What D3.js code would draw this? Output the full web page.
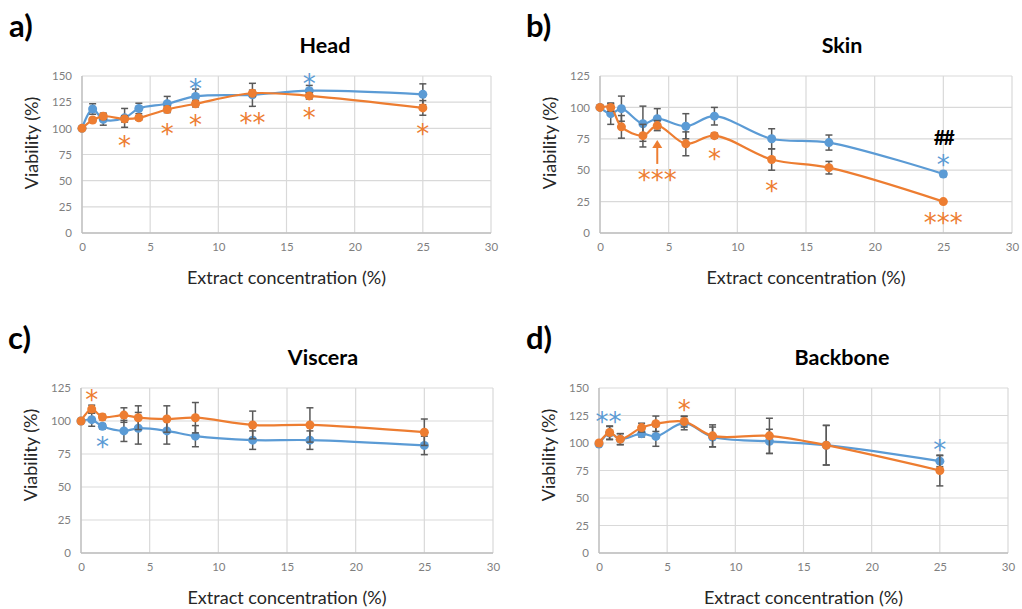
<!DOCTYPE html>
<html>
<head>
<meta charset="utf-8">
<script src="https://cdn.jsdelivr.net/npm/d3@7"></script>
<style>
  body { margin: 0; background: #fff; }
  text { font-family: Lato, "Open Sans", sans-serif; }
</style>
</head>
<body>
<svg id="chart" width="1022" height="609"></svg>
<script>
// extract concentrations (%) - same for every panel
const conc = [0, 0.78, 1.56, 3.125, 4.17, 6.25, 8.33, 12.5, 16.67, 25];
const xTicks = [0, 5, 10, 15, 20, 25, 30];

// a) Head
const headBlue = [100, 118.5, 108.5, 110, 119, 123.5, 130.5, 132, 136, 132.5];
const headBlueErr = [0, 5, 5.5, 9, 5, 7, 7, 11, 5, 10];
const headOrange = [100, 108, 111.5, 109, 110, 118, 123.5, 133.5, 131, 119.5];
const headOrangeErr = [0, 2, 3, 3, 2, 3, 3, 3, 3, 7];

// b) Skin
const skinBlue = [100, 95, 99, 87, 91, 85, 93, 75, 72, 47];
const skinBlueErr = [0, 8.5, 10, 14, 8, 10, 7, 8, 6, 2];
const skinOrange = [100, 100, 84.5, 77.5, 85.5, 71, 77.5, 58.5, 52, 25];
const skinOrangeErr = [0, 3, 9, 9, 4, 9.5, 2, 8.5, 5, 1];

// c) Viscera
const visceraBlue = [100, 101, 96, 92.5, 94.5, 92.5, 88.5, 85.5, 85.5, 81.5];
const visceraBlueErr = [0, 5, 2, 8, 12, 10, 8, 7, 7, 7];
const visceraOrange = [100, 109, 103, 104.5, 102.5, 101.5, 102.5, 97, 97, 91.5];
const visceraOrangeErr = [0, 3, 2, 5.5, 9, 10, 11.5, 10.5, 13, 10];

// d) Backbone
const backboneBlue = [99, 109, 103.5, 108.5, 106, 118, 105.5, 101.5, 98, 83.5];
const backboneBlueErr = [0, 6, 5, 3, 9, 6, 9, 11, 18, 5];
const backboneOrange = [100, 109.5, 103.5, 114, 117.5, 119.5, 106.5, 106.5, 98, 75];
const backboneOrangeErr = [0, 6, 5, 4, 7, 5, 10, 16, 18, 14];

// significance marks [x, y, text, series]
const headMarks = [[8.33, 143, "*", "blue"], [16.67, 148, "*", "blue"], [3.125, 88, "*", "orange"],
  [6.25, 100, "*", "orange"], [8.33, 108.5, "*", "orange"], [12.5, 110.5, "**", "orange"],
  [16.67, 115.5, "*", "orange"], [25, 99.5, "*", "orange"]];
const skinMarks = [[4.17, 46.5, "***", "orange"], [8.33, 63, "*", "orange"], [12.5, 38, "*", "orange"],
  [25, 12, "***", "orange"], [25, 58.5, "*", "blue"], [25, 76, "##", "black"]];
const visceraMarks = [[0.78, 120.5, "*", "orange"], [1.56, 84.5, "*", "blue"]];
const backboneMarks = [[0.7, 124.5, "**", "blue"], [6.25, 135.5, "*", "orange"], [25, 99, "*", "blue"]];

const colors = { blue: "#5B9BD5", orange: "#ED7D31", black: "#000" };

const svg = d3.select("#chart");
svg.append("rect").attr("width", 1022).attr("height", 609).attr("fill", "#fff");

function drawPanel(p) {
  const x = d3.scaleLinear().domain([0, 30]).range([p.left, p.right]);
  const y = d3.scaleLinear().domain([0, p.yMax]).range([p.bottom, p.top]);
  const yTicks = d3.range(0, p.yMax + 1, 25);
  const g = svg.append("g");

  // gridlines
  g.selectAll(".hgrid").data(yTicks).enter().append("line")
    .attr("x1", p.left).attr("x2", p.right)
    .attr("y1", d => y(d)).attr("y2", d => y(d))
    .attr("stroke", "#d9d9d9").attr("stroke-width", 1.2);
  g.selectAll(".vgrid").data(xTicks).enter().append("line")
    .attr("x1", d => x(d)).attr("x2", d => x(d))
    .attr("y1", p.top).attr("y2", p.bottom)
    .attr("stroke", "#d9d9d9").attr("stroke-width", 1.2);
  // axis lines
  g.append("line").attr("x1", p.left).attr("x2", p.right).attr("y1", p.bottom).attr("y2", p.bottom)
    .attr("stroke", "#bfbfbf").attr("stroke-width", 1.3);
  g.append("line").attr("x1", p.left).attr("x2", p.left).attr("y1", p.top).attr("y2", p.bottom)
    .attr("stroke", "#bfbfbf").attr("stroke-width", 1.3);

  // tick labels
  const ya = g.append("g").attr("transform", "translate(" + p.left + ",0)")
    .call(d3.axisLeft(y).tickValues(yTicks).tickSize(0).tickPadding(10));
  const xa = g.append("g").attr("transform", "translate(0," + p.bottom + ")")
    .call(d3.axisBottom(x).tickValues(xTicks).tickSize(0).tickPadding(10));
  [ya, xa].forEach(a => {
    a.select(".domain").remove();
    a.selectAll("text").attr("fill", "#7f7f7f").style("font-size", "11.5px")
      .style("font-family", "Lato, sans-serif");
  });

  // axis titles
  g.append("text").attr("x", (p.left + p.right) / 2).attr("y", p.bottom + 51)
    .attr("text-anchor", "middle").attr("fill", "#262626").style("font-size", "18px")
    .text("Extract concentration (%)");
  g.append("text").attr("transform", "translate(" + (p.left - 44) + "," + (p.top + 67) + ") rotate(-90)")
    .attr("text-anchor", "middle").attr("fill", "#262626").style("font-size", "18px")
    .text("Viability (%)");

  // chart title and panel label
  g.append("text").attr("x", p.titleX).attr("y", p.top - 23)
    .attr("text-anchor", "middle").attr("font-weight", "bold").style("font-size", "21.5px")
    .text(p.title);
  g.append("text").attr("x", p.labelX).attr("y", p.top - 39)
    .attr("font-weight", "bold").style("font-size", "31px")
    .text(p.label);

  const line = d3.line()
    .x((d, i) => x(conc[i]))
    .y(d => y(d))
    .curve(d3.curveCatmullRom.alpha(0.5));

  p.series.forEach(s => {
    const col = colors[s.color];
    g.append("path").datum(s.values).attr("d", line)
      .attr("fill", "none").attr("stroke", col).attr("stroke-width", 2.2);
    const pts = s.values.map((v, i) => ({ x: conc[i], v: v, e: s.err[i] }));
    const eb = g.selectAll(null).data(pts.filter(d => d.e > 0)).enter().append("g")
      .attr("stroke", "#595959").attr("stroke-width", 1.5);
    eb.append("line").attr("x1", d => x(d.x)).attr("x2", d => x(d.x))
      .attr("y1", d => y(d.v - d.e)).attr("y2", d => y(d.v + d.e));
    eb.append("line").attr("x1", d => x(d.x) - 3.5).attr("x2", d => x(d.x) + 3.5)
      .attr("y1", d => y(d.v - d.e)).attr("y2", d => y(d.v - d.e));
    eb.append("line").attr("x1", d => x(d.x) - 3.5).attr("x2", d => x(d.x) + 3.5)
      .attr("y1", d => y(d.v + d.e)).attr("y2", d => y(d.v + d.e));
    g.selectAll(null).data(pts).enter().append("circle")
      .attr("cx", d => x(d.x)).attr("cy", d => y(d.v)).attr("r", 4.5)
      .attr("fill", col);
  });

  // significance marks
  const isHash = d => d[2][0] === "#";
  g.selectAll(null).data(p.marks).enter().append("text")
    .attr("x", d => x(d[0])).attr("y", d => y(d[1]))
    .attr("text-anchor", "middle")
    .attr("dy", d => isHash(d) ? "0.36em" : "0.56em")
    .attr("fill", d => colors[d[3]])
    .attr("font-weight", d => isHash(d) ? "bold" : "normal")
    .style("font-family", d => isHash(d) ? "Lato, sans-serif" : "'DejaVu Sans', sans-serif")
    .style("font-size", d => isHash(d) ? "20px" : "26px")
    .style("letter-spacing", d => isHash(d) ? "-2px" : "0px")
    .text(d => d[2]);

  if (p.arrow) {
    const [ax, y0, y1] = p.arrow;
    g.append("line").attr("x1", x(ax)).attr("x2", x(ax)).attr("y1", y(y0)).attr("y2", y(y1) + 7)
      .attr("stroke", colors.orange).attr("stroke-width", 2);
    g.append("path")
      .attr("d", "M" + (x(ax) - 5) + "," + (y(y1) + 8) + "L" + (x(ax) + 5) + "," + (y(y1) + 8) +
        "L" + x(ax) + "," + y(y1) + "Z")
      .attr("fill", colors.orange);
  }
}

drawPanel({ left: 82, right: 491, top: 76, bottom: 233, yMax: 150, title: "Head", titleX: 325,
  label: "a)", labelX: 9, marks: headMarks,
  series: [{ values: headBlue, err: headBlueErr, color: "blue" }, { values: headOrange, err: headOrangeErr, color: "orange" }] });
drawPanel({ left: 600, right: 1012, top: 76, bottom: 233, yMax: 125, title: "Skin", titleX: 842,
  label: "b)", labelX: 526, marks: skinMarks, arrow: [4.17, 55, 74],
  series: [{ values: skinBlue, err: skinBlueErr, color: "blue" }, { values: skinOrange, err: skinOrangeErr, color: "orange" }] });
drawPanel({ left: 81, right: 493, top: 388, bottom: 553, yMax: 125, title: "Viscera", titleX: 323,
  label: "c)", labelX: 8, marks: visceraMarks,
  series: [{ values: visceraBlue, err: visceraBlueErr, color: "blue" }, { values: visceraOrange, err: visceraOrangeErr, color: "orange" }] });
drawPanel({ left: 599, right: 1008, top: 388, bottom: 553, yMax: 150, title: "Backbone", titleX: 842,
  label: "d)", labelX: 526, marks: backboneMarks,
  series: [{ values: backboneBlue, err: backboneBlueErr, color: "blue" }, { values: backboneOrange, err: backboneOrangeErr, color: "orange" }] });
</script>
</body>
</html>
